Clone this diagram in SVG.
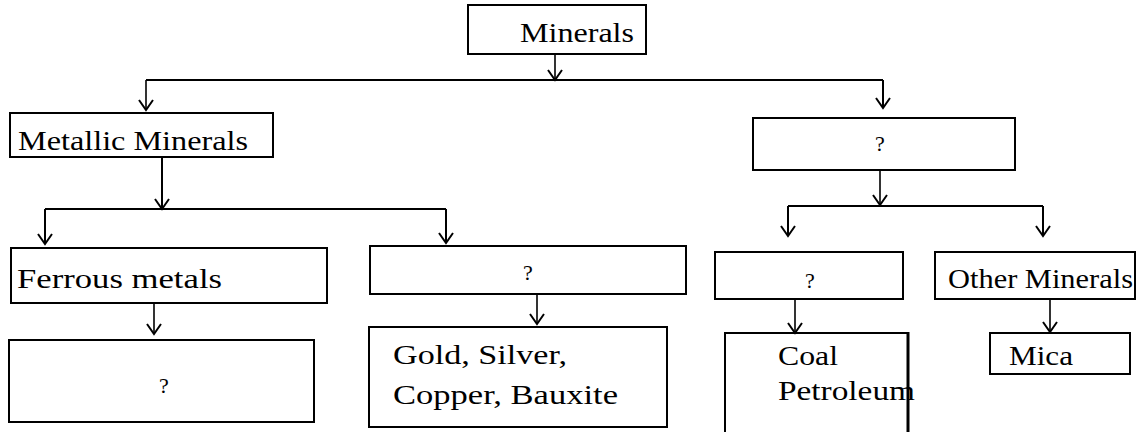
<svg xmlns="http://www.w3.org/2000/svg" width="1142" height="432" viewBox="0 0 1142 432">
  <style>
    .box { fill: #fff; stroke: #000; stroke-width: 2; }
    .wire { fill: none; stroke: #000; stroke-width: 1.6; }
    .bus { fill: none; stroke: #000; stroke-width: 2; }
  </style>
  <defs>
    <marker id="chev" markerUnits="userSpaceOnUse" markerWidth="20" markerHeight="20" viewBox="-12 -10 14 20" refX="0" refY="0" orient="auto" overflow="visible">
      <path d="M-10,-7 L0,0 L-10,7" fill="none" stroke="#000" stroke-width="2"/>
    </marker>
  </defs>
  <rect width="1142" height="432" fill="#fff"/>

  <g id="connectors">
    <!-- root split -->
    <line class="wire" x1="555" y1="54" x2="555" y2="80" marker-end="url(#chev)"/>
    <line class="bus" x1="146" y1="80" x2="883" y2="80"/>
    <line class="wire" x1="146" y1="80" x2="146" y2="110" marker-end="url(#chev)"/>
    <line class="bus" x1="883" y1="80" x2="883" y2="108" marker-end="url(#chev)"/>
    <!-- metallic split -->
    <line class="bus" x1="162" y1="157" x2="162" y2="209" marker-end="url(#chev)"/>
    <line class="bus" x1="45" y1="209" x2="446" y2="209"/>
    <line class="bus" x1="45" y1="209" x2="45" y2="244" marker-end="url(#chev)"/>
    <line class="bus" x1="446" y1="209" x2="446" y2="243" marker-end="url(#chev)"/>
    <line class="wire" x1="154" y1="303" x2="154" y2="334" marker-end="url(#chev)"/>
    <line class="wire" x1="537" y1="294" x2="537" y2="324" marker-end="url(#chev)"/>
    <!-- non-metallic split -->
    <line class="wire" x1="880" y1="170" x2="880" y2="205" marker-end="url(#chev)"/>
    <line class="bus" x1="788" y1="206" x2="1043" y2="206"/>
    <line class="bus" x1="788" y1="206" x2="788" y2="236" marker-end="url(#chev)"/>
    <line class="bus" x1="1043" y1="206" x2="1043" y2="236" marker-end="url(#chev)"/>
    <line class="wire" x1="795" y1="299" x2="795" y2="333" marker-end="url(#chev)"/>
    <line class="wire" x1="1050" y1="299" x2="1050" y2="332" marker-end="url(#chev)"/>
  </g>

  <g font-family="Liberation Serif, DejaVu Serif, serif" font-size="28" fill="#000">
    <g id="minerals">
      <rect class="box" x="468" y="5" width="178" height="49"/>
      <text x="520" y="42" textLength="114" lengthAdjust="spacingAndGlyphs">Minerals</text>
    </g>

    <g id="metallic">
      <rect class="box" x="10" y="113" width="263" height="44"/>
      <text x="18" y="150" textLength="230" lengthAdjust="spacingAndGlyphs">Metallic Minerals</text>
    </g>

    <g id="non-metallic">
      <rect class="box" x="753" y="118" width="262" height="52"/>
      <text x="880" y="151" font-size="22" text-anchor="middle">?</text>
    </g>

    <g id="ferrous">
      <rect class="box" x="11" y="248" width="316" height="55"/>
      <text x="17" y="288" textLength="205" lengthAdjust="spacingAndGlyphs">Ferrous metals</text>
    </g>

    <g id="ferrous-examples">
      <rect class="box" x="9" y="340" width="305" height="82"/>
      <text x="164" y="393" font-size="22" text-anchor="middle">?</text>
    </g>

    <g id="non-ferrous">
      <rect class="box" x="370" y="246" width="316" height="48"/>
      <text x="528" y="280" font-size="22" text-anchor="middle">?</text>
    </g>

    <g id="non-ferrous-examples">
      <rect class="box" x="369" y="327" width="298" height="100"/>
      <text x="393" y="364" textLength="174" lengthAdjust="spacingAndGlyphs">Gold, Silver,</text>
      <text x="393" y="404" textLength="225" lengthAdjust="spacingAndGlyphs">Copper, Bauxite</text>
    </g>

    <g id="fuel-minerals">
      <rect class="box" x="715" y="252" width="188" height="47"/>
      <text x="810" y="288" font-size="22" text-anchor="middle">?</text>
    </g>

    <g id="other-minerals">
      <rect class="box" x="935" y="252" width="200" height="47"/>
      <text x="948" y="288" textLength="185" lengthAdjust="spacingAndGlyphs">Other Minerals</text>
    </g>

    <g id="fuel-examples">
      <path d="M725,432 V333 H908" fill="none" stroke="#000" stroke-width="2"/>
      <line x1="908" y1="332" x2="908" y2="432" stroke="#000" stroke-width="3"/>
      <text x="778" y="365" textLength="60" lengthAdjust="spacingAndGlyphs">Coal</text>
      <text x="778" y="400" textLength="137" lengthAdjust="spacingAndGlyphs">Petroleum</text>
    </g>

    <g id="mica">
      <rect class="box" x="990" y="333" width="140" height="41"/>
      <text x="1009" y="365" textLength="64" lengthAdjust="spacingAndGlyphs">Mica</text>
    </g>
  </g>
</svg>
